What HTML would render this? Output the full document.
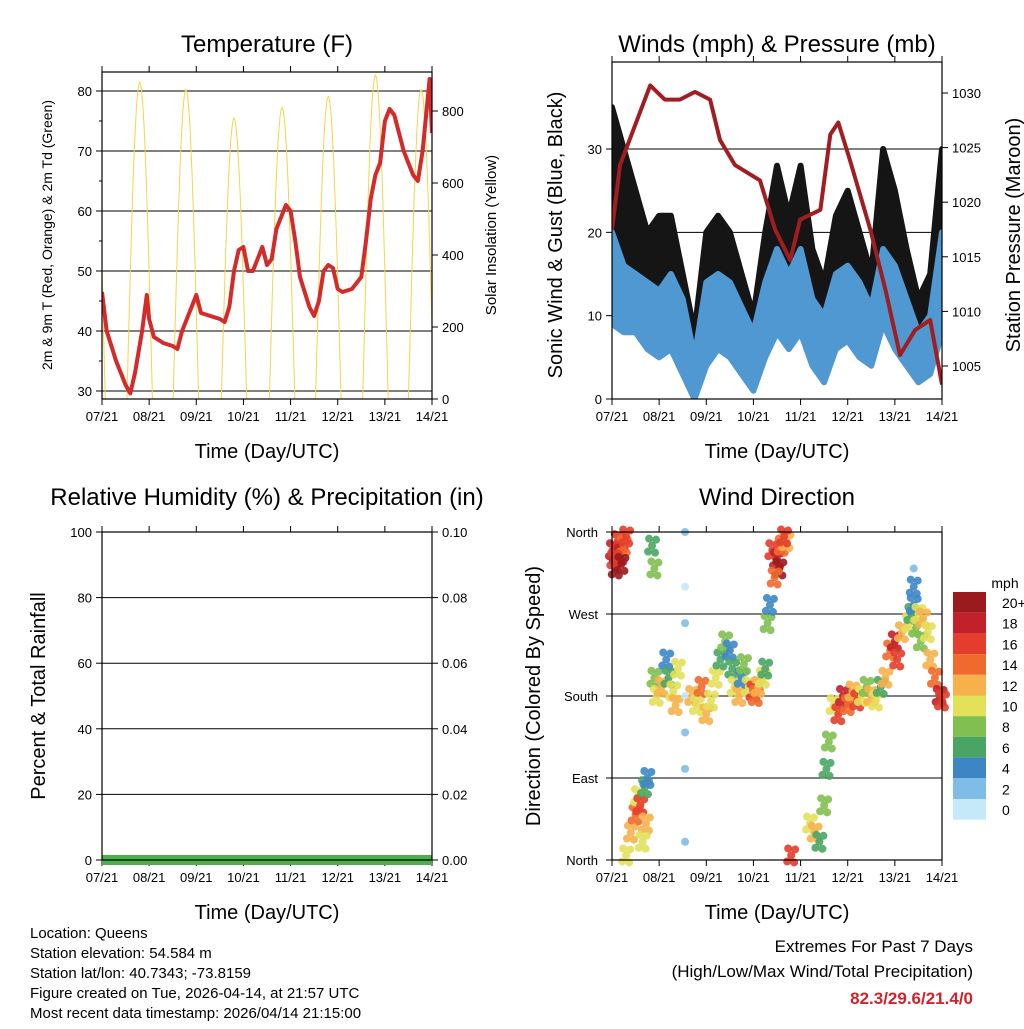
<!DOCTYPE html>
<html><head><meta charset="utf-8"><style>
body{margin:0;background:#fff;width:1024px;height:1024px;overflow:hidden;font-family:"Liberation Sans",sans-serif}
svg text{font-family:"Liberation Sans",sans-serif;fill:#000}
</style></head><body>
<svg id="s" width="1024" height="1024" xmlns="http://www.w3.org/2000/svg">
<g id="g"></g>
<text x="30" y="938" font-size="15">Location: Queens</text>
<text x="30" y="958" font-size="15">Station elevation: 54.584 m</text>
<text x="30" y="978" font-size="15">Station lat/lon: 40.7343; -73.8159</text>
<text x="30" y="998" font-size="15">Figure created on Tue, 2026-04-14, at 21:57 UTC</text>
<text x="30" y="1018" font-size="15">Most recent data timestamp: 2026/04/14 21:15:00</text>
<text x="973" y="952" font-size="17" text-anchor="end">Extremes For Past 7 Days</text>
<text x="973" y="977" font-size="17" text-anchor="end">(High/Low/Max Wind/Total Precipitation)</text>
<text x="973" y="1004" font-size="17" font-weight="bold" text-anchor="end" style="fill:#d0232a">82.3/29.6/21.4/0</text>
</svg>
<script>
const xTicks=["07/21","08/21","09/21","10/21","11/21","12/21","13/21","14/21"];
const tempT=[0,0.1,0.3,0.5,0.6,0.7,0.85,0.95,1.0,1.1,1.3,1.5,1.6,1.7,1.9,2.0,2.1,2.3,2.5,2.6,2.7,2.8,2.9,3.0,3.1,3.2,3.4,3.5,3.6,3.7,3.9,4.0,4.1,4.2,4.4,4.5,4.6,4.7,4.8,4.9,5.0,5.1,5.3,5.5,5.6,5.7,5.8,5.9,6.0,6.1,6.2,6.3,6.4,6.5,6.6,6.7,6.8,6.9,6.95,7.0];
const tempV=[46.5,40,35,31,29.6,33,40,46,42,39,38,37.5,37,40,44,46,43,42.5,42,41.5,44,50,53.5,54,50,50,54,51,52,57,61,60,55,49,44,42.5,45,50,51,50.5,47,46.5,47,49,55,62,66,68,75,77,76,73,70,68,66,65,70,78,82,73];
const solarPeakT=[-0.2,0.8,1.78,2.8,3.82,4.8,5.8,6.77];
const solarPeakV=[880,880,860,780,810,840,900,860];
const windT=[0,0.25,0.5,0.75,1,1.25,1.5,1.75,2,2.25,2.5,2.75,3,3.25,3.5,3.75,4,4.25,4.5,4.75,5,5.25,5.5,5.75,6,6.25,6.5,6.75,7];
const gustLo=[15,12,10,8,8,10,5,1,8,10,9,5,3,8,12,8,12,6,4,10,12,8,6,15,10,6,3,6,12];
const gustHi=[35,30,25,20,22,22,15,8,20,22,20,15,10,20,28,22,28,18,14,22,25,20,15,30,25,18,12,15,30];
const windLo=[9,8,8,6,5,6,3,0,4,6,5,3,1,5,8,6,8,4,2,6,7,5,4,9,6,4,2,3,8];
const windHi=[20,16,15,14,13,15,12,5,14,15,14,11,8,14,18,15,18,12,10,15,16,14,11,18,16,12,8,10,20];
const presT=[0,0.17,0.81,1.12,1.44,1.76,2.08,2.29,2.61,3.14,3.46,3.78,3.99,4.42,4.63,4.8,5.05,5.48,5.8,6.11,6.43,6.75,7];
const presV=[1017.5,1023.4,1030.7,1029.4,1029.4,1030.1,1029.4,1025.7,1023.4,1022,1017.5,1014.7,1018.4,1019.3,1026.2,1027.3,1023.8,1017.5,1012,1006,1008.3,1009.2,1003.3];
const dirT=[0.02,0.08,0.12,0.18,0.25,0.3,0.05,0.2,0.3,0.4,0.5,0.55,0.6,0.7,0.75,0.72,0.65,0.85,0.9,0.9,0.95,1.05,1.15,1.2,1.3,1.35,1.4,1.55,1.55,1.55,1.55,1.55,1.55,1.55,1.7,1.8,1.9,2.0,2.1,2.2,2.3,2.4,2.5,2.55,2.6,2.7,2.75,2.8,2.9,3.0,3.05,3.1,3.2,3.25,3.3,3.35,3.4,3.5,3.6,3.7,3.55,3.45,3.65,3.8,4.2,4.3,4.4,4.5,4.55,4.6,4.7,4.8,4.9,5.0,5.1,5.2,5.3,5.4,5.5,5.6,5.7,5.8,5.9,6.0,6.05,6.15,6.3,6.35,6.4,6.45,6.5,6.4,6.4,6.55,6.6,6.7,6.75,6.85,6.95,7.0];
const dirV=[340,320,350,335,345,355,330,325,5,30,50,70,60,80,90,40,20,345,320,200,180,190,220,200,185,170,210,360,260,180,140,100,20,300,180,170,190,160,175,200,220,240,230,210,190,180,200,215,190,185,180,190,200,210,260,280,340,330,345,350,320,310,355,5,40,30,20,60,100,130,170,160,180,170,185,175,180,190,180,175,190,200,230,240,220,250,260,270,280,255,270,320,300,240,265,250,220,200,180,175];
const dirS=[18,20,16,18,14,16,16,20,10,12,14,10,16,6,4,12,10,6,8,8,10,12,4,6,10,12,10,2,2,0,2,2,2,0,12,10,14,12,10,10,6,8,4,6,10,12,4,8,10,16,14,12,10,6,8,4,16,18,14,12,20,14,16,16,10,12,6,8,6,8,10,16,18,14,12,16,10,8,12,10,6,12,14,18,16,12,10,6,4,8,10,2,4,8,12,10,12,14,18,16];
const cbLabels=["20+","18","16","14","12","10","8","6","4","2","0"];
const cbColors=["#9b1a1e","#c2202a","#e33d2b","#ef6a2c","#f6b14c","#e3e05a","#80bf50","#4aa564","#3d86c6","#7fbde6","#c6e9f9"];

const NS="http://www.w3.org/2000/svg",G=document.getElementById('g');
function el(t,a,p){const e=document.createElementNS(NS,t);for(const k in a)e.setAttribute(k,a[k]);(p||G).appendChild(e);return e;}
function txt(x,y,s,size,anchor,extra){const e=el('text',Object.assign({x:x,y:y,'font-size':size,'text-anchor':anchor||'middle'},extra||{}));e.textContent=s;return e;}
function spdColor(s){let i=Math.round(s/2);if(i>10)i=10;return cbColors[10-i];}

function panel(x0,x1,y0,y1,title,xlab,name,ty){
  const xs=d=>x0+(x1-x0)*d/7;
  const t=txt((x0+x1)/2,ty,title,24,'middle');
  
  const l=txt((x0+x1)/2,y1+59,xlab,20,'middle');
  
  xTicks.forEach((s,i)=>{const x=xs(i);el('line',{x1:x,x2:x,y1:y1,y2:y1+6,stroke:'#000'});el('line',{x1:x,x2:x,y1:y0,y2:y0-6,stroke:'#000'});
    const e=txt(x,y1+22,s,13,'middle');});
  return xs;
}
function frame(x0,x1,y0,y1,name){const r=el('rect',{x:x0,y:y0,width:x1-x0,height:y1-y0,fill:'none',stroke:'#000','stroke-width':1.2});}
function ylab(x,y,s,size,name){const e=txt(x,y,s,size,'middle',{transform:`rotate(-90 ${x} ${y})`});}

// Panel 1 Temperature
{const x0=102,x1=432,y0=72,y1=399;const xs=panel(x0,x1,y0,y1,'Temperature (F)','Time (Day/UTC)','temperature',52);
 const ty=T=>91+(80-T)*6, sy=S=>399-S*0.36;
 [30,40,50,60,70,80].forEach(v=>{const y=ty(v);el('line',{x1:x0,x2:x1,y1:y,y2:y,stroke:'#000','stroke-width':1});el('line',{x1:x0-6,x2:x0,y1:y,y2:y,stroke:'#000'});txt(x0-10,y+5,v,13,'end');});
 for(let v=35;v<84;v+=10){el('line',{x1:x0-3,x2:x0,y1:ty(v),y2:ty(v),stroke:'#000'});}
 [0,200,400,600,800].forEach(v=>{const y=sy(v);el('line',{x1:x1,x2:x1+6,y1:y,y2:y,stroke:'#000'});txt(x1+10,y+5,v,13,'start');});
 const clip=el('clipPath',{id:'c1'});el('rect',{x:x0,y:y0,width:x1-x0,height:y1-y0},clip);
 const gg=el('g',{'clip-path':'url(#c1)'});
 solarPeakT.forEach((t,i)=>{const w=0.27,n=24;let d='';for(let k=0;k<=n;k++){const tt=t-w+2*w*k/n;const f=Math.max(0,Math.sin(Math.PI*k/n));d+=(k?'L':'M')+xs(tt).toFixed(1)+','+sy(solarPeakV[i]*f).toFixed(1);}
  const p=el('path',{d:d,fill:'none',stroke:'#f5d54a','stroke-width':1},gg);});
 const p=el('path',{d:tempT.map((t,i)=>(i?'L':'M')+xs(t).toFixed(1)+','+ty(tempV[i]).toFixed(1)).join(''),fill:'none',stroke:'#d42a2a','stroke-width':4,'stroke-linejoin':'round'},gg);
 
 frame(x0,x1,y0,y1,'temperature');
 ylab(52,235,'2m & 9m T (Red, Orange) & 2m Td (Green)',14,'temperature-y-axis-title');
 ylab(496,235,'Solar Insolation (Yellow)',15,'solar-y-axis-title');
}
// Panel 2 Winds
{const x0=612,x1=942,y0=62,y1=399;const xs=panel(x0,x1,y0,y1,'Winds (mph) & Pressure (mb)','Time (Day/UTC)','winds',52);
 const wy=v=>399-v*8.333, py=p=>366-(p-1005)*10.92;
 [0,10,20,30].forEach(v=>{const y=wy(v);if(v)el('line',{x1:x0,x2:x1,y1:y,y2:y,stroke:'#000'});el('line',{x1:x0-6,x2:x0,y1:y,y2:y,stroke:'#000'});txt(x0-10,y+5,v,13,'end');});
 [1005,1010,1015,1020,1025,1030].forEach(v=>{const y=py(v);el('line',{x1:x1,x2:x1+6,y1:y,y2:y,stroke:'#000'});txt(x1+10,y+5,v,13,'start');});
 const clip=el('clipPath',{id:'c2'});el('rect',{x:x0,y:y0,width:x1-x0,height:y1-y0},clip);
 const gg=el('g',{'clip-path':'url(#c2)'});
 function band(lo,hi,color,name){let d='';windT.forEach((t,i)=>{d+=(i?'L':'M')+xs(t).toFixed(1)+','+wy(hi[i]).toFixed(1);});
   for(let i=windT.length-1;i>=0;i--)d+='L'+xs(windT[i]).toFixed(1)+','+wy(lo[i]).toFixed(1);d+='Z';
   const b=el('path',{d:d,fill:color,stroke:color,'stroke-width':6,'stroke-linejoin':'round'},gg);}
 band(gustLo,gustHi,'#151515','gust-band');
 band(windLo,windHi,'#4f98d2','wind-band');
 const pl=el('path',{d:presT.map((t,i)=>(i?'L':'M')+xs(t).toFixed(1)+','+py(presV[i]).toFixed(1)).join(''),fill:'none',stroke:'#a01e22','stroke-width':4,'stroke-linejoin':'round'},gg);
 
 frame(x0,x1,y0,y1,'winds');
 ylab(562,235,'Sonic Wind & Gust (Blue, Black)',20,'wind-y-axis-title');
 ylab(1020,235,'Station Pressure (Maroon)',20,'pressure-y-axis-title');
}
// Panel 3 RH
{const x0=102,x1=432,y0=532,y1=860;const xs=panel(x0,x1,y0,y1,'Relative Humidity (%) & Precipitation (in)','Time (Day/UTC)','humidity',505);
 [0,20,40,60,80,100].forEach(v=>{const y=860-v*3.28;if(v&&v<100)el('line',{x1:x0,x2:x1,y1:y,y2:y,stroke:'#000'});el('line',{x1:x0-6,x2:x0,y1:y,y2:y,stroke:'#000'});txt(x0-10,y+5,v,13,'end');
   el('line',{x1:x1,x2:x1+6,y1:y,y2:y,stroke:'#000'});txt(x1+10,y+5,(v/1000).toFixed(2),13,'start');});
 const r=el('rect',{x:x0,y:855,width:x1-x0,height:10,fill:'#4cae4c'});
 frame(x0,x1,y0,y1,'humidity');
 ylab(45,696,'Percent & Total Rainfall',20,'humidity-y-axis-title');
}
// Panel 4 Wind direction
{const x0=612,x1=942,y0=532,y1=860;const xs=panel(x0,x1,y0,y1,'Wind Direction','Time (Day/UTC)','wind-direction',505);
 const dy=d=>860-d*0.9111;
 ['North','East','South','West','North'].forEach((s,i)=>{const y=dy(i*90);if(i&&i<4)el('line',{x1:x0,x2:x1,y1:y,y2:y,stroke:'#000'});el('line',{x1:x0-6,x2:x0,y1:y,y2:y,stroke:'#000'});txt(x0-14,y+5,s,13,'end');});
 const offs=[[0,0],[-4,6],[4,-6],[3,7],[-3,-7]];
 dirT.forEach((t,i)=>{const spread=dirS[i]<=2?0:1;offs.forEach((o,k)=>{if(!spread&&k>0)return;
   const c=el('circle',{cx:xs(t)+o[0],cy:dy(dirV[i])+o[1],r:4,fill:spdColor(dirS[i]),opacity:0.9});
   });});
 frame(x0,x1,y0,y1,'wind-direction');
 ylab(540,696,'Direction (Colored By Speed)',20,'direction-y-axis-title');
 txt(1005,588,'mph',14,'middle');
 cbLabels.forEach((s,i)=>{const y=592+i*20.7;const r=el('rect',{x:953,y:y,width:33,height:20.7,fill:cbColors[i]});txt(1002,y+16,s,14,'start');});
}
</script>
</body></html>
